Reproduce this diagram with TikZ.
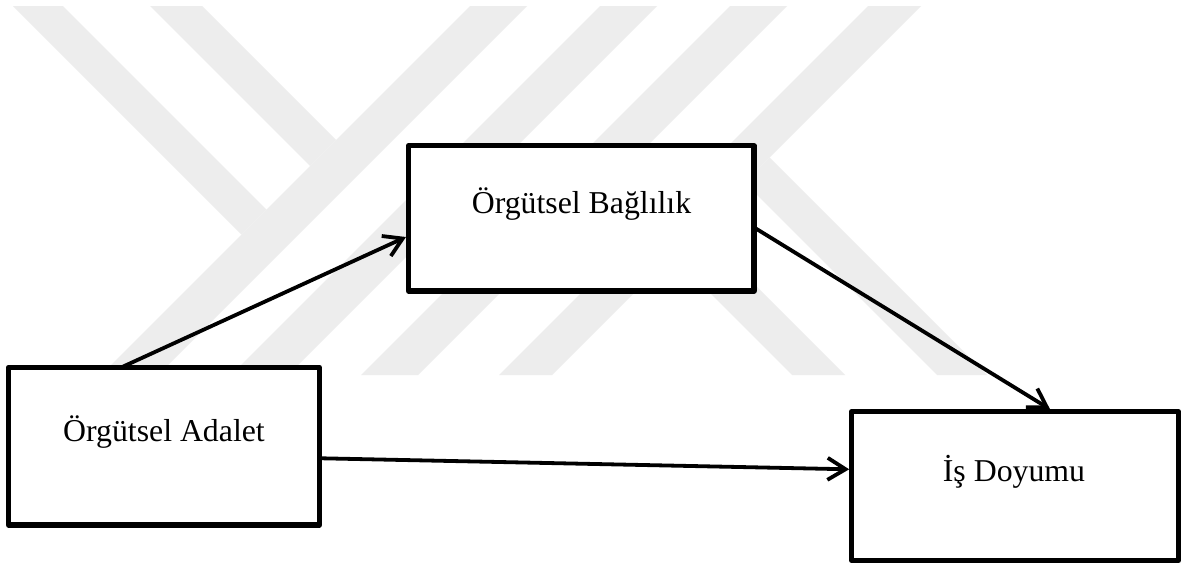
\documentclass[tikz,border=0pt]{standalone}
\usepackage{fontspec}
\setmainfont{Liberation Serif}
\usetikzlibrary{arrows.meta}
\definecolor{wmgray}{RGB}{237,237,237}
\tikzset{
  box/.style={draw=black, fill=white, line width=5.2pt, line join=round,
    inner sep=0pt, outer sep=0pt},
  caption/.style={anchor=base, inner sep=0pt, font=\fontsize{31.8}{38}\selectfont},
  conn/.style={line width=3.8pt, line cap=round,
    -{Straight Barb[length=18pt,width=22pt,line width=3.8pt]}},
  wmband/.style={fill=wmgray, draw=none}
}
\begin{document}
\begin{tikzpicture}[x=1pt,y=-1pt]
\useasboundingbox (0,0) rectangle (1188,565);
\fill[white] (0,0) rectangle (1188,565);

% background emblem: slanted bands
\fill[wmband] (13,6) -- (63,6) -- (266.5,209.5) -- (241.5,234.5) -- cycle;
\fill[wmband] (150,6) -- (202,6) -- (336,140) -- (310,166) -- cycle;
\fill[wmband] (470,6) -- (527,6) -- (158,375) -- (101,375) -- cycle;
\fill[wmband] (600,6) -- (657,6) -- (288,375) -- (231,375) -- cycle;
\fill[wmband] (730,6) -- (787,6) -- (418,375) -- (361,375) -- cycle;
\fill[wmband] (631.5,161.5) -- (845,375) -- (792,375) -- (605,188) -- cycle;
\fill[wmband] (868,6) -- (921,6) -- (552,375) -- (499,375) -- cycle;
\fill[wmband] (769.5,157.5) -- (987,375) -- (937,375) -- (744.5,182.5) -- cycle;

% boxes
\node[box, minimum width=345.5pt, minimum height=145.2pt] (bag) at (581.2,218.4) {};
\node[box, minimum width=310.8pt, minimum height=157.8pt] (ada) at (163.9,446.1) {};
\node[box, minimum width=326.8pt, minimum height=148.8pt] (doy) at (1015.1,486.1) {};

% captions
\node[caption] (bagt) at (581.5,213.3) {Örgütsel Bağlılık};
\node[caption] (adat) at (164,441.7) {Örgütsel Adalet};
\node[caption] (doyt) at (1014,481.7) {İş Doyumu};

% connectors
\draw[conn] ([xshift=113.2pt]ada.north west) -- ([xshift=-2.5pt,yshift=-18.6pt]bag.west);
\draw[conn] ([xshift=1.5pt,yshift=-9.9pt]bag.east) -- ([xshift=34.9pt,yshift=2.5pt]doy.north);
\draw[conn] ([xshift=2.5pt,yshift=-12.2pt]ada.east) -- ([xshift=-2.5pt,yshift=16.8pt]doy.west);
\end{tikzpicture}
\end{document}
